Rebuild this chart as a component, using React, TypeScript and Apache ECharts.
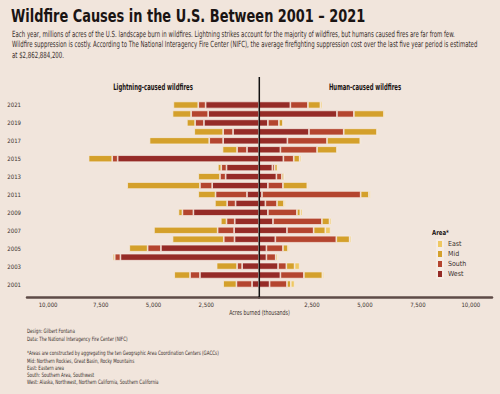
import React, { useEffect, useRef } from 'react';
import * as echarts from 'echarts';

// Years, top to bottom
const years = ['2021','2020','2019','2018','2017','2016','2015','2014','2013','2012','2011','2010','2009','2008','2007','2006','2005','2004','2003','2002','2001'];

// Lightning-caused (thousand acres)
const lightWest = [2530,2410,2610,1230,1700,570,6700,1540,1580,2220,570,1110,3110,1150,1180,1160,4650,6570,800,2800,330];
const lightSouth = [350,810,420,470,660,470,260,250,270,580,1490,400,520,390,780,510,630,270,240,470,740];
const lightMid = [1180,880,390,1370,2830,690,1120,160,1030,3450,820,580,190,270,3020,2430,870,90,970,750,630];

// Human-caused (thousand acres)
const humanWest = [1480,3680,420,2360,1340,1010,1150,630,820,420,140,300,420,660,1320,770,350,350,900,1010,500];
const humanSouth = [830,800,520,1640,1870,1730,490,110,260,710,4660,550,1370,2310,1260,2880,780,440,390,1110,820];
const humanMid = [590,1420,190,1570,1570,940,280,130,100,1150,390,330,160,360,550,630,240,80,390,870,180];
const humanEast = [90,60,50,50,50,50,80,60,40,60,80,80,100,90,250,80,80,70,240,80,180];

const areas = ['East', 'Mid', 'South', 'West'];
const COLORS: Record<string, string> = { West: '#952b27', South: '#b4452f', Mid: '#d4a02b', East: '#efc862' };
const BG = '#f1e5dc';
const FONT = '"Liberation Sans Narrow", "DejaVu Sans Condensed", "Roboto Condensed", sans-serif';

const txt = (x: number, y: number, text: string, size: number, opts: any = {}) => ({
  type: 'text', x, y, scaleX: opts.sx ?? 1, z: 10,
  style: {
    text, fontSize: size, fontFamily: FONT, fontWeight: opts.bold ? 'bold' : 'normal',
    fill: opts.color ?? '#2b2220', textAlign: opts.align ?? 'left', textVerticalAlign: 'middle',
  },
});

export default function App() {
  const ref = useRef<HTMLDivElement>(null);
  useEffect(() => {
    document.body.style.margin = '0';
    const chart = echarts.init(ref.current!, null, { renderer: 'svg' });
    const mk = (name: string, data: number[], side: number) => ({
      type: 'bar', name, data, stack: side === 0 ? 'L' : 'R',
      xAxisIndex: side, yAxisIndex: side, barWidth: 7,
      itemStyle: { color: COLORS[name], borderColor: '#f6ece4', borderWidth: 0.7 },
    });
    const tickFmt = (v: number) => (v === 0 || v % 2500 !== 0 ? '' : v.toLocaleString('en-US'));
    const xAx = (idx: number) => ({
      type: 'value', gridIndex: idx, min: 0, max: 11000, interval: 2500, inverse: idx === 0,
      offset: 8.5,
      splitLine: { show: false }, axisTick: { show: false },
      axisLine: { show: true, lineStyle: { color: '#5e4b47', width: 2.5 } },
      axisLabel: { formatter: tickFmt, fontSize: 6, fontFamily: FONT, color: '#3a302d', margin: 4, showMaxLabel: false },
    });
    const note = { sx: 0.75, color: '#3a302d' };
    const sub = { sx: 0.71, color: '#3a302d' };
    chart.setOption({
      animation: false,
      backgroundColor: BG,
      grid: [
        { left: 27, right: 241, top: 100.5, bottom: 105.5 },
        { left: 259, right: 8, top: 100.5, bottom: 105.5 },
      ],
      xAxis: [xAx(0), xAx(1)],
      yAxis: [
        {
          type: 'category', gridIndex: 0, data: years, inverse: true, position: 'left',
          axisLine: { show: false, onZero: false }, axisTick: { show: false },
          axisLabel: { interval: 1, fontSize: 6, fontFamily: FONT, color: '#3a302d', margin: 6 },
        },
        {
          type: 'category', gridIndex: 1, data: years, inverse: true,
          axisLine: { show: false }, axisTick: { show: false }, axisLabel: { show: false },
        },
      ],
      legend: {
        data: areas, orient: 'vertical', left: 436, top: 239, padding: 0, itemWidth: 6, itemHeight: 8, itemGap: 0,
        icon: 'rect', textStyle: { fontSize: 7, fontFamily: FONT, color: '#3a302d', lineHeight: 10 },
        selectedMode: false,
      },
      series: [
        mk('West', lightWest, 0), mk('South', lightSouth, 0), mk('Mid', lightMid, 0),
        mk('West', humanWest, 1), mk('South', humanSouth, 1), mk('Mid', humanMid, 1), mk('East', humanEast, 1),
      ],
      graphic: [
        txt(11, 16, 'Wildfire Causes in the U.S. Between 2001 – 2021', 18, { bold: true, sx: 0.8, color: '#1a1413' }),
        txt(12, 34, 'Each year, millions of acres of the U.S. landscape burn in wildfires. Lightning strikes account for the majority of wildfires, but humans caused fires are far from few.', 8.5, sub),
        txt(12, 44.5, 'Wildfire suppression is costly. According to The National Interagency Fire Center (NIFC), the average firefighting suppression cost over the last five year period is estimated', 8.5, sub),
        txt(12, 55.5, 'at $2,862,884,200.', 8.5, sub),
        txt(153, 87, 'Lightning-caused wildfires', 9, { bold: true, sx: 0.66, align: 'center', color: '#1a1413' }),
        txt(365, 87, 'Human-caused wildfires', 9, { bold: true, sx: 0.66, align: 'center', color: '#1a1413' }),
        txt(259.5, 312, 'Acres burned (thousands)', 7, { sx: 0.75, align: 'center', color: '#3a302d' }),
        txt(432, 233, 'Area*', 7, { bold: true, sx: 0.85, color: '#1a1413' }),
        txt(27, 331, 'Design: Gilbert Fontana', 6, note),
        txt(27, 338.5, 'Data: The National Interagency Fire Center (NIFC)', 6, note),
        txt(27, 353, '*Areas are constructed by aggregating the ten Geographic Area Coordination Centers (GACCs)', 6, note),
        txt(27, 360.5, 'Mid: Northern Rockies, Great Basin, Rocky Mountains', 6, note),
        txt(27, 367.5, 'East: Eastern area', 6, note),
        txt(27, 374.5, 'South: Southern Area, Southwest', 6, note),
        txt(27, 382, 'West: Alaska, Northwest, Northern California, Southern California', 6, note),
        { type: 'line', z: 20, shape: { x1: 259.3, y1: 77, x2: 259.3, y2: 297 }, style: { stroke: '#111', lineWidth: 1.5 } },
      ],
    });
    return () => chart.dispose();
  }, []);
  return <div ref={ref} style={{ width: 500, height: 394 }} />;
}
